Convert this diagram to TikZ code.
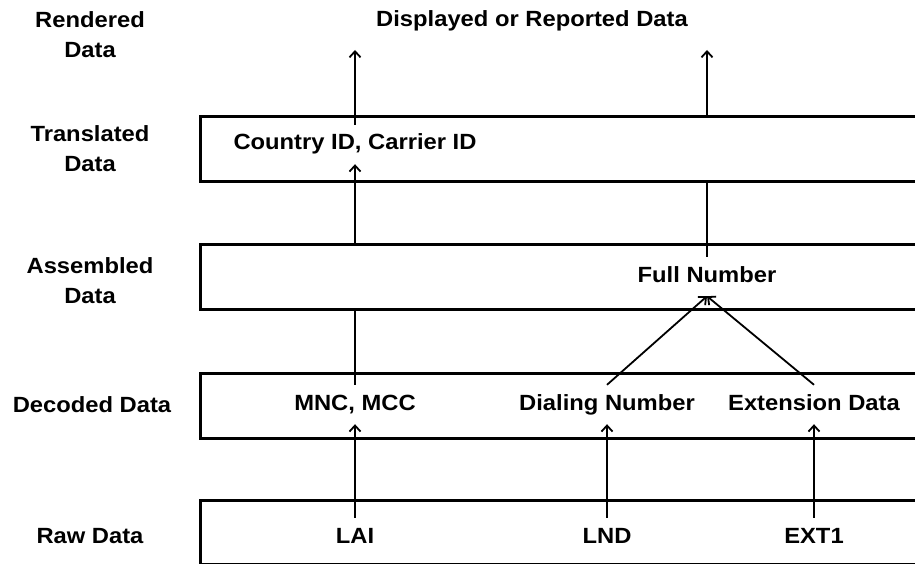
\documentclass[tikz,border=0pt]{standalone}
\usepackage{fontspec}
\setmainfont{Liberation Sans}[FakeStretch=1.08]
\usetikzlibrary{arrows.meta}
\begin{document}
\begin{tikzpicture}[x=1pt,y=-1pt,
  lbl/.style={font=\fontsize{22}{30}\selectfont\bfseries, align=center, anchor=base, inner sep=0pt},
  itxt/.style={font=\fontsize{22}{30}\selectfont\bfseries, anchor=base, text height=16pt, text depth=5pt, inner xsep=2pt, inner ysep=9pt},
  band/.style={draw, line width=3pt, fill=white, minimum width=760pt, anchor=north west, inner sep=0pt},
  conn/.style={line width=1.8pt},
  arr/.style={conn, -{Straight Barb[length=6pt,width=11pt]}}
]
\useasboundingbox (0,0) rectangle (915,564);
\clip (0,0) rectangle (915,564);
\fill[white] (0,0) rectangle (915,564);

% bands
\node[band, minimum height=65pt] (trans) at (199,115) {};
\node[band, minimum height=65pt] (asm) at (199,243) {};
\node[band, minimum height=65pt] (dec) at (199,372) {};
\node[band, minimum height=64pt] (raw) at (199,499) {};

% left labels
\node[lbl] (lrend) at (90,58) {Rendered\\Data};
\node[lbl] (ltrans) at (90,172) {Translated\\Data};
\node[lbl] (lasm) at (90,303) {Assembled\\Data};
\node[lbl] (ldec) at (92,412) {Decoded Data};
\node[lbl] (lraw) at (90,543) {Raw Data};
\node[lbl] (disp) at (532,27) {Displayed or Reported Data};

% inner texts
\node[itxt] (country) at (355,150) {Country ID, Carrier ID};
\node[itxt] (full) at (707,282) {Full Number};
\node[itxt] (mnc) at (355,410) {MNC, MCC};
\node[itxt] (dial) at (607,410) {Dialing Number};
\node[itxt] (ext) at (814,410) {Extension Data};
\node[itxt] (lai) at (355,543) {LAI};
\node[itxt] (lnd) at (607,543) {LND};
\node[itxt] (ext1) at (814,543) {EXT1};

\coordinate (top1) at (355,50);
\coordinate (top2) at (707,50);

% connectors
\draw[arr] (lai.north) -- (mnc.south);
\draw[arr] (lnd.north) -- (dial.south);
\draw[arr] (ext1.north) -- (ext.south);
\draw[arr] (dial.north) -- (full.south);
\draw[arr] (ext.north) -- (full.south);
\draw[conn] (mnc.north) -- (mnc.north |- asm.south);
\draw[arr] (mnc.north |- asm.north) -- (country.south);
\draw[arr] (country.north) -- (top1);
\draw[conn] (full.north) -- (full.north |- trans.south);
\draw[arr] (full.north |- trans.north) -- (top2);
\end{tikzpicture}
\end{document}
